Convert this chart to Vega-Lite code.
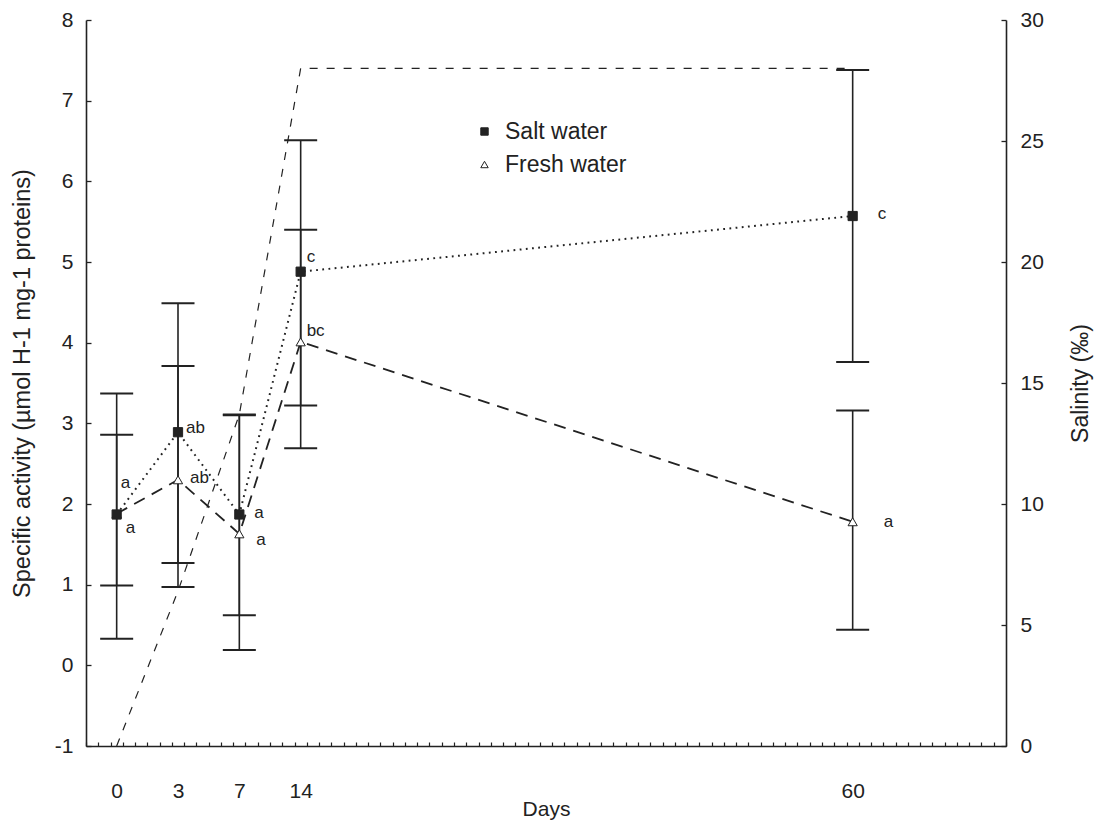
{
  "$schema": "https://vega.github.io/schema/vega-lite/v6.json",
  "width": 920,
  "height": 726,
  "autosize": {"type": "none"},
  "padding": {"left": 86, "top": 20, "right": 89, "bottom": 77},
  "background": "white",
  "config": {
    "view": {"stroke": null},
    "font": "Liberation Sans",
    "axis": {"grid": false, "domainColor": "#222", "domainWidth": 1.6, "tickColor": "#222", "tickWidth": 1.3, "labelColor": "#222", "titleColor": "#222", "labelFont": "Liberation Sans", "titleFont": "Liberation Sans", "labelFontSize": 21, "titleFontSize": 23, "titleFontWeight": "normal"},
    "legend": {"labelFontSize": 23, "labelFont": "Liberation Sans", "labelColor": "#222", "symbolSize": 55, "symbolStrokeColor": "#222", "symbolStrokeWidth": 1, "rowPadding": 9, "labelOffset": 9}
  },
  "datasets": {
    "activity": [
      {"series": "Fresh water", "day": 0, "value": 1.88, "lo": 0.99, "hi": 2.86, "letter": "a"},
      {"series": "Fresh water", "day": 3, "value": 2.30, "lo": 0.97, "hi": 3.71, "letter": "ab"},
      {"series": "Fresh water", "day": 7, "value": 1.63, "lo": 0.19, "hi": 3.10, "letter": "a"},
      {"series": "Fresh water", "day": 14, "value": 4.01, "lo": 2.69, "hi": 5.40, "letter": "bc"},
      {"series": "Fresh water", "day": 60, "value": 1.78, "lo": 0.44, "hi": 3.16, "letter": "a"},
      {"series": "Salt water", "day": 0, "value": 1.87, "lo": 0.33, "hi": 3.37, "letter": "a"},
      {"series": "Salt water", "day": 3, "value": 2.89, "lo": 1.27, "hi": 4.49, "letter": "ab"},
      {"series": "Salt water", "day": 7, "value": 1.87, "lo": 0.62, "hi": 3.11, "letter": "a"},
      {"series": "Salt water", "day": 14, "value": 4.88, "lo": 3.22, "hi": 6.51, "letter": "c"},
      {"series": "Salt water", "day": 60, "value": 5.57, "lo": 3.76, "hi": 7.38, "letter": "c"}
    ],
    "salinity": [
      {"day": 0, "salinity": 0},
      {"day": 3, "salinity": 6.4},
      {"day": 7, "salinity": 13.7},
      {"day": 14, "salinity": 28},
      {"day": 60, "salinity": 28}
    ]
  },
  "layer": [
    {
      "layer": [
        {
          "data": {"name": "activity"},
          "encoding": {
            "x": {"field": "day", "type": "quantitative",
              "scale": {"domain": [-2.5, 0, 3, 7, 14, 60, 72.5], "range": [0, 30.67, 92, 153.33, 214.67, 766.67, 920], "nice": false, "zero": false},
              "axis": {"orient": "bottom", "values": [0, 3, 7, 14, 60], "ticks": false, "labelPadding": 34, "title": "Days", "titleX": 460, "titleY": 63, "titleBaseline": "middle", "titleAlign": "center", "titleFontSize": 21}},
            "y": {"field": "value", "type": "quantitative",
              "scale": {"domain": [-1, 8], "nice": false, "zero": false},
              "axis": {"orient": "left", "values": [-1, 0, 1, 2, 3, 4, 5, 6, 7, 8], "labelExpr": "datum.value < 0 ? '-' + abs(datum.value) : '' + datum.value", "tickSize": -5, "labelPadding": 18, "title": "Specific activity (µmol H-1 mg-1 proteins)", "titleFontSize": 23.5, "titleAngle": 270, "titleX": -64, "titleY": 363, "titleAlign": "center", "titleBaseline": "middle"}}
          },
          "layer": [
            {"transform": [{"filter": "datum.series == 'Salt water'"}], "mark": {"type": "line", "color": "#222", "strokeWidth": 2, "strokeDash": [1.8, 4.4]}},
            {"transform": [{"filter": "datum.series == 'Fresh water'"}], "mark": {"type": "line", "color": "#222", "strokeWidth": 1.8, "strokeDash": [12, 8]}},
            {"mark": {"type": "rule", "color": "#222", "strokeWidth": 1.6}, "encoding": {"y": {"field": "lo", "type": "quantitative"}, "y2": {"field": "hi"}}},
            {"mark": {"type": "tick", "orient": "horizontal", "size": 33, "thickness": 2, "color": "#222", "opacity": 1}, "encoding": {"y": {"field": "lo", "type": "quantitative"}}},
            {"mark": {"type": "tick", "orient": "horizontal", "size": 33, "thickness": 2, "color": "#222", "opacity": 1}, "encoding": {"y": {"field": "hi", "type": "quantitative"}}},
            {"mark": {"type": "point", "filled": true, "stroke": "#222", "strokeWidth": 1, "opacity": 1, "size": 85},
              "encoding": {
                "shape": {"field": "series", "type": "nominal", "scale": {"domain": ["Salt water", "Fresh water"], "range": ["square", "triangle-up"]},
                  "legend": {"title": null, "orient": "none", "legendX": 387, "legendY": 100}},
                "color": {"field": "series", "type": "nominal", "scale": {"domain": ["Salt water", "Fresh water"], "range": ["#222", "white"]},
                  "legend": {"title": null, "orient": "none", "legendX": 387, "legendY": 100}}
              }},
            {"transform": [{"filter": "datum.series == 'Salt water' && datum.day == 0"}], "mark": {"type": "text", "align": "left", "baseline": "middle", "dx": 4, "dy": -31, "fontSize": 17, "color": "#222"}, "encoding": {"text": {"field": "letter"}}},
            {"transform": [{"filter": "datum.series == 'Salt water' && datum.day == 3"}], "mark": {"type": "text", "align": "left", "baseline": "middle", "dx": 8, "dy": -4, "fontSize": 17, "color": "#222"}, "encoding": {"text": {"field": "letter"}}},
            {"transform": [{"filter": "datum.series == 'Salt water' && datum.day == 7"}], "mark": {"type": "text", "align": "left", "baseline": "middle", "dx": 15, "dy": -1, "fontSize": 17, "color": "#222"}, "encoding": {"text": {"field": "letter"}}},
            {"transform": [{"filter": "datum.series == 'Salt water' && datum.day == 14"}], "mark": {"type": "text", "align": "left", "baseline": "middle", "dx": 6, "dy": -15, "fontSize": 17, "color": "#222"}, "encoding": {"text": {"field": "letter"}}},
            {"transform": [{"filter": "datum.series == 'Salt water' && datum.day == 60"}], "mark": {"type": "text", "align": "left", "baseline": "middle", "dx": 25, "dy": -2, "fontSize": 17, "color": "#222"}, "encoding": {"text": {"field": "letter"}}},
            {"transform": [{"filter": "datum.series == 'Fresh water' && datum.day == 0"}], "mark": {"type": "text", "align": "left", "baseline": "middle", "dx": 9, "dy": 14, "fontSize": 17, "color": "#222"}, "encoding": {"text": {"field": "letter"}}},
            {"transform": [{"filter": "datum.series == 'Fresh water' && datum.day == 3"}], "mark": {"type": "text", "align": "left", "baseline": "middle", "dx": 12, "dy": -2, "fontSize": 17, "color": "#222"}, "encoding": {"text": {"field": "letter"}}},
            {"transform": [{"filter": "datum.series == 'Fresh water' && datum.day == 7"}], "mark": {"type": "text", "align": "left", "baseline": "middle", "dx": 17, "dy": 6, "fontSize": 17, "color": "#222"}, "encoding": {"text": {"field": "letter"}}},
            {"transform": [{"filter": "datum.series == 'Fresh water' && datum.day == 14"}], "mark": {"type": "text", "align": "left", "baseline": "middle", "dx": 6, "dy": -11, "fontSize": 17, "color": "#222"}, "encoding": {"text": {"field": "letter"}}},
            {"transform": [{"filter": "datum.series == 'Fresh water' && datum.day == 60"}], "mark": {"type": "text", "align": "left", "baseline": "middle", "dx": 31, "dy": 0, "fontSize": 17, "color": "#222"}, "encoding": {"text": {"field": "letter"}}}
          ]
        },
        {
          "data": {"name": "salinity"},
          "mark": {"type": "line", "color": "#222", "strokeWidth": 1.2, "strokeDash": [8, 9]},
          "encoding": {
            "x": {"field": "day", "type": "quantitative"},
            "y": {"field": "salinity", "type": "quantitative",
              "scale": {"domain": [0, 30], "nice": false, "zero": false},
              "axis": {"orient": "right", "values": [0, 5, 10, 15, 20, 25, 30], "tickSize": -5, "labelPadding": 19, "title": "Salinity (‰)", "titleAngle": 270, "titleX": 74, "titleY": 363, "titleAlign": "center", "titleBaseline": "middle"}}
          }
        }
      ],
      "resolve": {"scale": {"y": "independent"}}
    },
    {
      "data": {"name": "activity"},
      "mark": {"type": "point", "opacity": 0},
      "encoding": {
        "x": {"field": "day", "type": "quantitative",
          "scale": {"domain": [0, 75], "nice": false, "zero": false},
          "axis": {"orient": "bottom", "values": [0,1,2,3,4,5,6,7,8,9,10,11,12,13,14,15,16,17,18,19,20,21,22,23,24,25,26,27,28,29,30,31,32,33,34,35,36,37,38,39,40,41,42,43,44,45,46,47,48,49,50,51,52,53,54,55,56,57,58,59,60,61,62,63,64,65,66,67,68,69,70,71,72,73,74,75], "labels": false, "tickSize": -4, "tickWidth": 1.2, "domain": false, "title": null}}
      }
    }
  ],
  "resolve": {"scale": {"x": "independent"}}
}
